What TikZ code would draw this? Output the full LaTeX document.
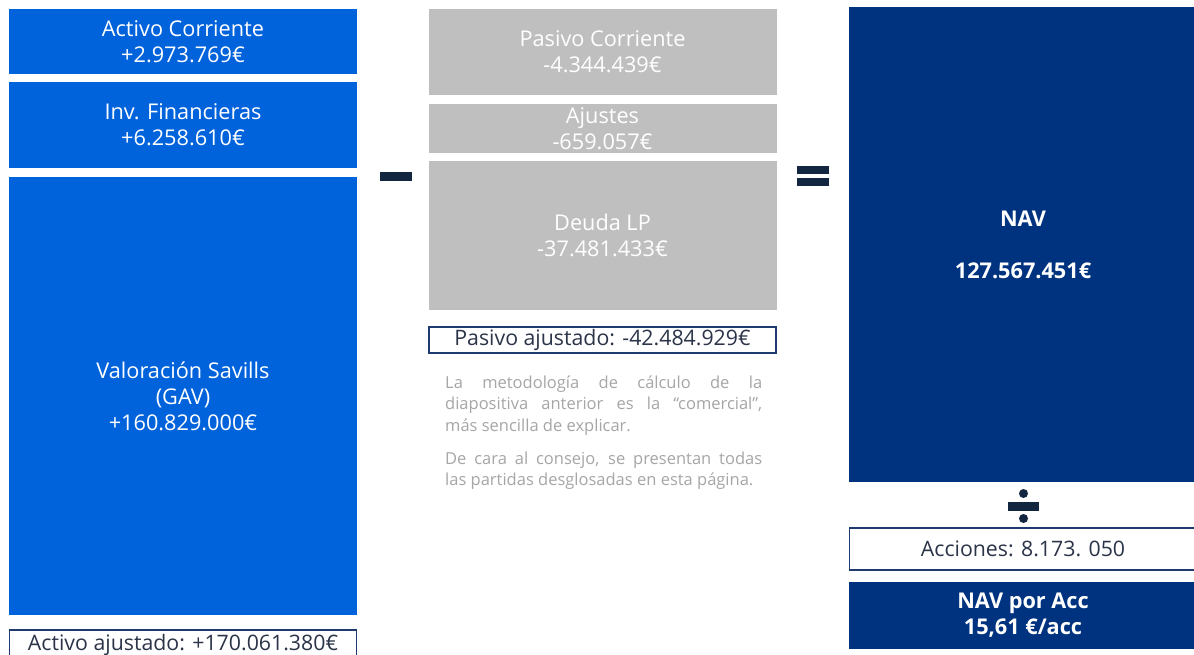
\documentclass[tikz,border=0pt]{standalone}
\usepackage{fontspec}
\setmainfont{Open Sans}
\definecolor{bblue}{HTML}{0063DB}
\definecolor{nblue}{HTML}{00337F}
\definecolor{lgray}{HTML}{BFBFBF}
\definecolor{signc}{HTML}{13263F}
\definecolor{outl}{HTML}{1F3A6E}
\definecolor{ptext}{HTML}{A6A6A6}
\definecolor{btext}{HTML}{2B3448}
\tikzset{
  blk/.style={inner sep=0pt, align=center, font=\fontsize{21.7}{26}\selectfont},
  bluebox/.style={blk, fill=bblue, text=white},
  graybox/.style={blk, fill=lgray, text=white},
  navbox/.style={blk, fill=nblue, text=white, font=\fontsize{21.7}{26}\selectfont\bfseries},
  outbox/.style={blk, draw=outl, line width=1.8pt, fill=white, text=btext, font=\fontsize{21.3}{24}\selectfont},
  signbar/.style={fill=signc, inner sep=0pt, draw=none},
}
\begin{document}
\begin{tikzpicture}[x=1pt,y=-1pt]
\useasboundingbox[fill=white] (0,0) rectangle (1194,654);
% left column
\node[bluebox, minimum width=348pt, minimum height=65pt] (ac) at (183,41.5) {Activo Corriente\\+2.973.769€};
\node[bluebox, minimum width=348pt, minimum height=86pt] (inv) at (183,125) {Inv. Financieras\\+6.258.610€};
\node[bluebox, minimum width=348pt, minimum height=438pt] (gav) at (183,396) {Valoración Savills\\(GAV)\\+160.829.000€};
\node[outbox, minimum width=347pt, minimum height=30pt] (aa) at (183,645) {Activo ajustado: +170.061.380€};
% minus
\node[signbar, minimum width=32pt, minimum height=9pt] (minus) at (396,176) {};
% middle column
\node[graybox, minimum width=348pt, minimum height=86pt] (pc) at (602.5,52) {Pasivo Corriente\\-4.344.439€};
\node[graybox, minimum width=348pt, minimum height=49pt] (aj) at (602.5,128.5) {Ajustes\\-659.057€};
\node[graybox, minimum width=348pt, minimum height=149pt] (dlp) at (602.5,235.5) {Deuda LP\\-37.481.433€};
\node[outbox, minimum width=347pt, minimum height=26pt] (pa) at (602.5,340) {Pasivo ajustado: -42.484.929€};
\node[anchor=north west, inner sep=0pt, text width=317pt, align=justify, text=ptext,
      font=\fontsize{16.5}{21.5}\selectfont] (txt) at (445,375.5)
  {\hyphenpenalty10000\exhyphenpenalty10000
   La metodología de cálculo de la\linebreak diapositiva anterior es la “comercial”,\linebreak más sencilla de explicar.\par\vspace{11.5pt}
   De cara al consejo, se presentan todas\linebreak las partidas desglosadas en esta página.};
% equals
\node[signbar, minimum width=32pt, minimum height=8pt] (eq1) at (813,169.5) {};
\node[signbar, minimum width=32pt, minimum height=8pt] (eq2) at (813,182) {};
% right column
\node[navbox, minimum width=348pt, minimum height=475pt] (nav) at (1023,244.5) {NAV\\[26pt]127.567.451€};
\node[signbar, minimum width=31pt, minimum height=9pt] (divbar) at (1023.5,506) {};
\node[signbar, circle, minimum size=9pt] (dot1) at (1023.5,493.5) {};
\node[signbar, circle, minimum size=9pt] (dot2) at (1023.5,518.5) {};
\node[outbox, minimum width=347pt, minimum height=42pt, text=btext] (acc) at (1023,549) {Acciones: 8.173. 050};
\node[navbox, minimum width=348pt, minimum height=67pt] (npa) at (1023,615.5) {NAV por Acc\\15,61 €/acc};
\end{tikzpicture}
\end{document}
